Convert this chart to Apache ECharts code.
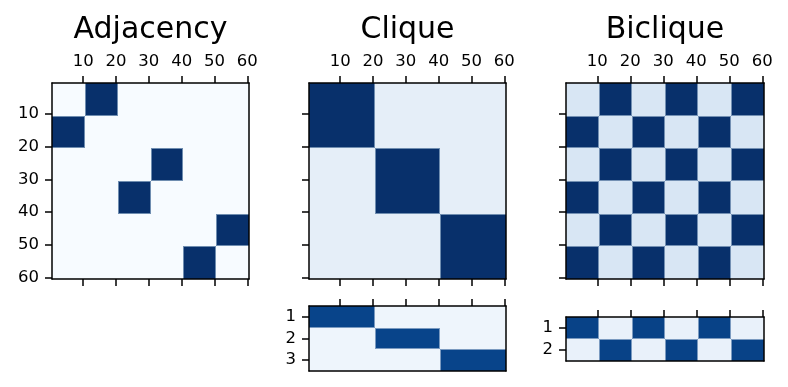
<!DOCTYPE html>
<html>
<head>
<meta charset="utf-8">
<script src="https://cdn.jsdelivr.net/npm/echarts@6/dist/echarts.min.js"></script>
<style>
html,body{margin:0;padding:0;background:#fff;}
#main{width:788px;height:387px;}
</style>
</head>
<body>
<div id="main"></div>
<script>
// ---------------- DATA ----------------
const panelTitles = ['Adjacency', 'Clique', 'Biclique'];
const nodeTicks = [10, 20, 30, 40, 50, 60];
// node index ranges covered by each block (nodes 1..60)
const nodeBlocks = [[1, 10], [11, 20], [21, 30], [31, 40], [41, 50], [51, 60]];
const adjacencyBlocks = [
  [0, 1, 0, 0, 0, 0],
  [1, 0, 0, 0, 0, 0],
  [0, 0, 0, 1, 0, 0],
  [0, 0, 1, 0, 0, 0],
  [0, 0, 0, 0, 0, 1],
  [0, 0, 0, 0, 1, 0]
];
const cliqueBlocks = [
  [1, 1, 0, 0, 0, 0],
  [1, 1, 0, 0, 0, 0],
  [0, 0, 1, 1, 0, 0],
  [0, 0, 1, 1, 0, 0],
  [0, 0, 0, 0, 1, 1],
  [0, 0, 0, 0, 1, 1]
];
const bicliqueBlocks = [
  [0, 1, 0, 1, 0, 1],
  [1, 0, 1, 0, 1, 0],
  [0, 1, 0, 1, 0, 1],
  [1, 0, 1, 0, 1, 0],
  [0, 1, 0, 1, 0, 1],
  [1, 0, 1, 0, 1, 0]
];
const cliqueLabels = [1, 2, 3];
const cliqueMembership = [
  [1, 1, 0, 0, 0, 0],
  [0, 0, 1, 1, 0, 0],
  [0, 0, 0, 0, 1, 1]
];
const bicliqueLabels = [1, 2];
const bicliqueMembership = [
  [1, 0, 1, 0, 1, 0],
  [0, 1, 0, 1, 0, 1]
];

// ---------------- STYLE / LAYOUT ----------------
const FONT = 'DejaVu Sans';
const LW = 1.5;
const panels = [
  {grid: {left: 52, top: 83, width: 197, height: 196}, ymax: 60.5, yticks: nodeTicks, xLabels: true, yLabels: true, bottomTicks: true,
   matrix: adjacencyBlocks, rows: nodeBlocks, colors: ['#f7fbff', '#08306b'], edge: '#6f8db0'},
  {grid: {left: 309, top: 83, width: 197, height: 196}, ymax: 60.5, yticks: nodeTicks, xLabels: true, yLabels: false, bottomTicks: true,
   matrix: cliqueBlocks, rows: nodeBlocks, colors: ['#e5eef8', '#08306b'], edge: '#6f8db0'},
  {grid: {left: 566, top: 83, width: 198, height: 196}, ymax: 60.5, yticks: nodeTicks, xLabels: true, yLabels: false, bottomTicks: true,
   matrix: bicliqueBlocks, rows: nodeBlocks, colors: ['#d8e6f4', '#08306b'], edge: '#7390b3'},
  {grid: {left: 309, top: 306, width: 197, height: 65}, ymax: 3.5, yticks: cliqueLabels, xLabels: false, yLabels: true, bottomTicks: false,
   matrix: cliqueMembership, rows: cliqueLabels.map(v => [v, v]), colors: ['#eef5fc', '#08448a'], edge: '#7a9ac0'},
  {grid: {left: 566, top: 317, width: 198, height: 44}, ymax: 2.5, yticks: bicliqueLabels, xLabels: false, yLabels: true, bottomTicks: false,
   matrix: bicliqueMembership, rows: bicliqueLabels.map(v => [v, v]), colors: ['#e9f1fa', '#084287'], edge: '#7a9ac0'}
];

const axisLineStyle = {show: true, lineStyle: {color: '#000', width: LW}};
const labelStyle = {color: '#000', fontFamily: FONT, fontSize: 16.5};

const grids = [], xAxes = [], yAxes = [], series = [];
panels.forEach((p, g) => {
  grids.push(Object.assign({containLabel: false}, p.grid));
  xAxes.push({
    gridIndex: g, type: 'value', position: 'top', min: 0.5, max: 60.5, z: 10,
    axisLine: axisLineStyle, splitLine: {show: false},
    axisTick: {show: true, customValues: nodeTicks, length: 7, lineStyle: {color: '#000', width: LW}},
    axisLabel: Object.assign({show: p.xLabels, customValues: nodeTicks, margin: 13}, labelStyle)
  });
  xAxes.push({
    gridIndex: g, type: 'value', position: 'bottom', min: 0.5, max: 60.5, z: 10,
    axisLine: axisLineStyle, splitLine: {show: false},
    axisTick: {show: p.bottomTicks, customValues: nodeTicks, length: 7, lineStyle: {color: '#000', width: LW}},
    axisLabel: {show: false, customValues: nodeTicks}
  });
  yAxes.push({
    gridIndex: g, type: 'value', position: 'left', min: 0.5, max: p.ymax, inverse: true, z: 10,
    axisLine: axisLineStyle, splitLine: {show: false},
    axisTick: {show: true, customValues: p.yticks, length: 7, lineStyle: {color: '#000', width: LW}},
    axisLabel: Object.assign({show: p.yLabels, customValues: p.yticks, margin: 13}, labelStyle)
  });
  yAxes.push({
    gridIndex: g, type: 'value', position: 'right', min: 0.5, max: p.ymax, inverse: true, z: 10,
    axisLine: axisLineStyle, splitLine: {show: false},
    axisTick: {show: false}, axisLabel: {show: false}
  });

  const data = [];
  p.matrix.forEach((row, r) => row.forEach((v, c) => data.push([c, r, v])));
  const M = p.matrix;
  const cell = (r, c) => (r >= 0 && r < M.length && c >= 0 && c < M[0].length) ? M[r][c] : null;
  series.push({
    type: 'custom',
    xAxisIndex: 2 * g, yAxisIndex: 2 * g,
    silent: true, animation: false,
    data: data,
    renderItem: function (params, api) {
      const c = api.value(0), r = api.value(1), v = api.value(2);
      const xr = nodeBlocks[c], yr = p.rows[r];
      const a = api.coord([xr[0] - 0.5, yr[0] - 0.5]);
      const b = api.coord([xr[1] + 0.5, yr[1] + 0.5]);
      const x0 = Math.round(Math.min(a[0], b[0])), x1 = Math.round(Math.max(a[0], b[0]));
      const y0 = Math.round(Math.min(a[1], b[1])), y1 = Math.round(Math.max(a[1], b[1]));
      const children = [{
        type: 'rect', shape: {x: x0, y: y0, width: x1 - x0, height: y1 - y0},
        style: {fill: p.colors[v ? 1 : 0]}, z2: 1
      }];
      if (v) {
        const es = {stroke: p.edge, lineWidth: 1};
        if (cell(r - 1, c) === 0) children.push({type: 'line', shape: {x1: x0, y1: y0 + 0.5, x2: x1, y2: y0 + 0.5}, style: es, z2: 3});
        if (cell(r + 1, c) === 0) children.push({type: 'line', shape: {x1: x0, y1: y1 - 0.5, x2: x1, y2: y1 - 0.5}, style: es, z2: 3});
        if (cell(r, c - 1) === 0) children.push({type: 'line', shape: {x1: x0 + 0.5, y1: y0, x2: x0 + 0.5, y2: y1}, style: es, z2: 3});
        if (cell(r, c + 1) === 0) children.push({type: 'line', shape: {x1: x1 - 0.5, y1: y0, x2: x1 - 0.5, y2: y1}, style: es, z2: 3});
      }
      return {type: 'group', children: children};
    }
  });
});

const titles = panelTitles.map((t, i) => ({
  text: t,
  left: panels[i].grid.left + panels[i].grid.width / 2,
  top: 15,
  padding: 0,
  textAlign: 'center',
  textStyle: {fontFamily: FONT, fontSize: 30, fontWeight: 'normal', color: '#000'}
}));

const chart = echarts.init(document.getElementById('main'), null, {renderer: 'canvas'});
chart.setOption({
  animation: false,
  backgroundColor: '#fff',
  title: titles,
  grid: grids,
  xAxis: xAxes,
  yAxis: yAxes,
  series: series
});
</script>
</body>
</html>
